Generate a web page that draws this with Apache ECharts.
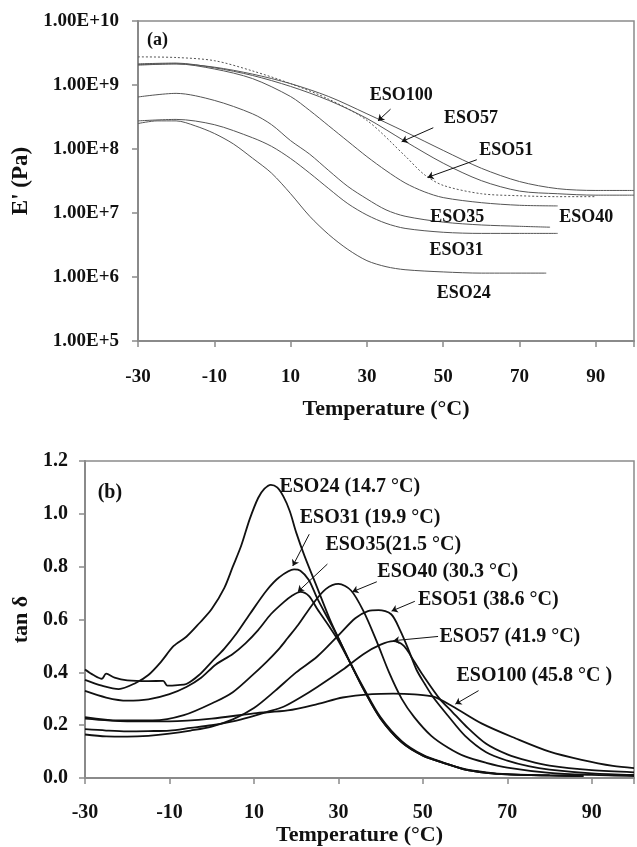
<!DOCTYPE html>
<html>
<head>
<meta charset="utf-8">
<script src="https://cdn.jsdelivr.net/npm/echarts@6/dist/echarts.min.js"></script>
<style>
  html, body { margin: 0; padding: 0; background: #fff; }
  #chart { width: 637px; height: 847px; }
</style>
</head>
<body>
<div id="chart"></div>
<script>
// tick labels
const tempTicks = [-30, -10, 10, 30, 50, 70, 90];
const modTicks = [1e5, 1e6, 1e7, 1e8, 1e9, 1e10];
const tanTicks = [0, 0.2, 0.4, 0.6, 0.8, 1.0, 1.2];

// (a) storage modulus E' (Pa) vs temperature, [T (°C), E']
const eso24E = [[-30, 2.5e8], [-25, 2.75e8], [-20, 2.75e8], [-15, 2.3e8], [-10, 1.75e8], [-5, 1.2e8], [0, 7.2e7], [5, 4.2e7], [10, 2.0e7], [15, 8.9e6], [20, 4.6e6], [25, 2.7e6], [30, 1.8e6], [35, 1.45e6], [40, 1.3e6], [50, 1.2e6], [60, 1.15e6], [77, 1.15e6]];
const eso31E = [[-30, 2.75e8], [-20, 2.9e8], [-10, 2.4e8], [0, 1.5e8], [5, 1.1e8], [10, 7.1e7], [15, 4.2e7], [20, 2.4e7], [25, 1.4e7], [30, 9.3e6], [35, 6.9e6], [40, 5.75e6], [50, 5.0e6], [60, 4.8e6], [70, 4.8e6], [80, 4.8e6]];
const eso35E = [[-30, 6.5e8], [-20, 7.4e8], [-10, 5.75e8], [0, 3.55e8], [5, 2.4e8], [10, 1.35e8], [15, 8.3e7], [20, 4.6e7], [25, 2.6e7], [30, 1.66e7], [35, 1.12e7], [40, 8.9e6], [50, 7.2e6], [60, 6.5e6], [70, 6.2e6], [78, 6.0e6]];
const eso40E = [[-30, 2.09e9], [-20, 2.14e9], [-10, 1.78e9], [0, 1.26e9], [10, 6.6e8], [15, 4.0e8], [20, 2.3e8], [25, 1.32e8], [30, 7.6e7], [35, 4.6e7], [40, 2.95e7], [45, 2.15e7], [50, 1.74e7], [60, 1.45e7], [70, 1.32e7], [80, 1.29e7]];
const eso51E = [[-30, 2.75e9], [-20, 2.69e9], [-10, 2.4e9], [0, 1.66e9], [10, 1.05e9], [20, 6.0e8], [30, 2.8e8], [40, 7.8e7], [45, 4.0e7], [50, 2.7e7], [60, 2.0e7], [70, 1.86e7], [80, 1.8e7], [90, 1.8e7]];
const eso57E = [[-30, 2.14e9], [-20, 2.2e9], [-10, 1.86e9], [0, 1.41e9], [10, 9.5e8], [20, 5.75e8], [30, 3.0e8], [40, 1.32e8], [50, 6.0e7], [60, 3.2e7], [70, 2.2e7], [80, 2.0e7], [90, 1.9e7], [100, 1.9e7]];
const eso100E = [[-30, 2.04e9], [-20, 2.14e9], [-10, 1.9e9], [0, 1.48e9], [10, 1.05e9], [20, 6.6e8], [30, 3.55e8], [40, 1.86e8], [50, 9.5e7], [60, 5.0e7], [70, 3.1e7], [80, 2.4e7], [90, 2.25e7], [100, 2.25e7]];

// (b) tan delta vs temperature, [T (°C), tan δ]
const eso24Tan = [[-30, 0.372], [-26, 0.35], [-22, 0.337], [-18, 0.36], [-15, 0.39], [-12, 0.44], [-9, 0.5], [-6, 0.535], [-3, 0.585], [0, 0.64], [3, 0.72], [5, 0.8], [7, 0.88], [9, 0.98], [11, 1.06], [12.5, 1.095], [14, 1.11], [15.5, 1.1], [17, 1.065], [18.5, 1.01], [20, 0.93], [22, 0.84], [25, 0.72], [28, 0.6], [30, 0.53], [33, 0.43], [36, 0.34], [40, 0.23], [45, 0.14], [50, 0.088], [55, 0.058], [60, 0.034], [65, 0.022], [70, 0.015], [80, 0.01], [88, 0.008]];
const eso31Tan = [[-30, 0.411], [-28, 0.39], [-26, 0.376], [-25, 0.395], [-23, 0.38], [-20, 0.37], [-15, 0.367], [-11.5, 0.368], [-10.5, 0.35], [-8, 0.352], [-6, 0.356], [-3, 0.39], [0, 0.44], [3, 0.49], [6, 0.55], [9, 0.62], [13, 0.71], [16, 0.76], [19.5, 0.79], [21, 0.785], [23, 0.75], [25, 0.68], [28, 0.59], [30, 0.53], [33, 0.43], [36, 0.335], [40, 0.225], [45, 0.135], [50, 0.085], [55, 0.057], [60, 0.032], [65, 0.02], [70, 0.014], [80, 0.01], [88, 0.008]];
const eso35Tan = [[-30, 0.33], [-25, 0.305], [-20, 0.293], [-15, 0.298], [-10, 0.318], [-6, 0.345], [-2.5, 0.38], [1, 0.43], [5, 0.47], [8, 0.51], [11, 0.56], [14, 0.62], [17, 0.665], [19, 0.69], [21, 0.705], [23, 0.69], [25, 0.64], [28, 0.57], [30, 0.52], [33, 0.43], [36, 0.335], [40, 0.225], [45, 0.135], [50, 0.085], [55, 0.057], [60, 0.032], [65, 0.02], [70, 0.014], [80, 0.01], [88, 0.008]];
const eso40Tan = [[-30, 0.231], [-22, 0.218], [-14, 0.218], [-6.6, 0.238], [1, 0.29], [5, 0.325], [9, 0.38], [13, 0.44], [16, 0.49], [18, 0.53], [20.5, 0.58], [24, 0.66], [27, 0.715], [30, 0.735], [33, 0.71], [36, 0.63], [39, 0.52], [42, 0.4], [45, 0.3], [48, 0.23], [52, 0.16], [56, 0.115], [60, 0.082], [65, 0.058], [70, 0.04], [80, 0.02], [90, 0.012], [100, 0.008]];
const eso51Tan = [[-30, 0.165], [-25, 0.158], [-20, 0.157], [-15, 0.16], [-10, 0.168], [-5, 0.18], [0, 0.195], [5, 0.222], [10, 0.265], [15, 0.33], [20, 0.4], [25, 0.46], [30, 0.54], [34, 0.605], [37, 0.632], [39.5, 0.636], [42.5, 0.62], [44.6, 0.56], [46.5, 0.49], [48.5, 0.41], [50.5, 0.355], [52.5, 0.305], [56, 0.235], [60, 0.16], [65, 0.098], [70, 0.066], [75, 0.045], [80, 0.032], [90, 0.018], [100, 0.012]];
const eso57Tan = [[-30, 0.185], [-25, 0.18], [-20, 0.177], [-15, 0.178], [-10, 0.18], [-5, 0.19], [0, 0.2], [5, 0.215], [9, 0.231], [13, 0.25], [17, 0.27], [21, 0.305], [25, 0.345], [31, 0.41], [36, 0.47], [40, 0.505], [43, 0.518], [45.5, 0.5], [48, 0.44], [50, 0.39], [54, 0.3], [57, 0.25], [60, 0.2], [65, 0.13], [70, 0.09], [75, 0.065], [80, 0.047], [90, 0.03], [100, 0.022]];
const eso100Tan = [[-30, 0.225], [-20, 0.215], [-10, 0.215], [0, 0.225], [10, 0.245], [18, 0.256], [25, 0.28], [31, 0.305], [38, 0.318], [43, 0.32], [48, 0.317], [52.5, 0.308], [57, 0.272], [64, 0.206], [72, 0.15], [80, 0.1], [87.6, 0.069], [95, 0.046], [100, 0.038]];

const FONT = "'Liberation Serif', 'Times New Roman', serif";
const AXIS = '#8a8a8a';
const INK = '#111';

const chart = echarts.init(document.getElementById('chart'));

// text tag placed in data space
function tags(list, size) {
  return {
    symbol: 'circle',
    symbolSize: 1,
    itemStyle: { color: 'rgba(0,0,0,0)' },
    silent: true,
    label: {
      show: true, position: 'inside', formatter: '{b}',
      fontFamily: FONT, fontWeight: 'bold', fontSize: size, color: INK
    },
    data: list.map(t => ({ name: t[0], coord: t[1] }))
  };
}

// small pointer from label to curve
function arrow(from, to) {
  return {
    silent: true,
    symbol: ['none', 'arrow'],
    symbolSize: 6,
    label: { show: false },
    lineStyle: { color: INK, width: 1, type: 'solid' },
    data: [[{ coord: from }, { coord: to }]]
  };
}

function curveA(name, data, opts) {
  const s = {
    name: name, type: 'line', xAxisIndex: 0, yAxisIndex: 0,
    data: data, showSymbol: false, smooth: 0.3,
    lineStyle: { color: '#555', width: 1, type: opts.dotted ? [2, 2] : 'solid' },
    emphasis: { disabled: true }
  };
  if (opts.tags) s.markPoint = tags(opts.tags, 18);
  if (opts.arrow) s.markLine = arrow(opts.arrow[0], opts.arrow[1]);
  return s;
}

function curveB(name, data, opts) {
  const s = {
    name: name, type: 'line', xAxisIndex: 1, yAxisIndex: 1,
    data: data, showSymbol: false, smooth: 0.3,
    lineStyle: { color: INK, width: 1.8 },
    emphasis: { disabled: true }
  };
  if (opts.tags) s.markPoint = tags(opts.tags, 20);
  if (opts.arrow) s.markLine = arrow(opts.arrow[0], opts.arrow[1]);
  return s;
}

function tempAxis(gridIndex, fontSize, labelMargin, nameGap) {
  return {
    type: 'value', gridIndex: gridIndex, min: -30, max: 100, interval: 20,
    name: 'Temperature (°C)', nameLocation: 'middle', nameGap: nameGap,
    nameTextStyle: { fontFamily: FONT, fontWeight: 'bold', fontSize: 22, color: INK },
    axisLine: { show: true, onZero: false, lineStyle: { color: AXIS, width: 2 } },
    axisTick: { show: true, length: 6, lineStyle: { color: AXIS, width: 1.5 } },
    axisLabel: {
      margin: labelMargin, fontFamily: FONT, fontWeight: 'bold', fontSize: fontSize, color: INK,
      formatter: v => (tempTicks.indexOf(v) >= 0 ? String(v) : '')
    },
    splitLine: { show: false }
  };
}

const option = {
  animation: false,
  backgroundColor: '#fff',
  grid: [
    { left: 138, top: 21, width: 498, height: 320, show: true, borderColor: AXIS, borderWidth: 1.5 },
    { left: 85, top: 461, width: 551, height: 321, show: true, borderColor: AXIS, borderWidth: 1.5 }
  ],
  xAxis: [
    tempAxis(0, 19, 27, 57),
    tempAxis(1, 20, 25, 45)
  ],
  yAxis: [
    {
      type: 'log', logBase: 10, gridIndex: 0, min: modTicks[0], max: modTicks[modTicks.length - 1],
      name: "E' (Pa)", nameLocation: 'middle', nameGap: 96,
      nameTextStyle: { fontFamily: FONT, fontWeight: 'bold', fontSize: 23, color: INK },
      axisLine: { show: true, onZero: false, lineStyle: { color: AXIS, width: 2 } },
      axisTick: { show: true, length: 6, lineStyle: { color: AXIS, width: 1.5 } },
      minorTick: { show: false },
      axisLabel: {
        margin: 19, fontFamily: FONT, fontWeight: 'bold', fontSize: 19, color: INK,
        formatter: v => Number(v).toExponential(2).toUpperCase()
      },
      splitLine: { show: false }
    },
    {
      type: 'value', gridIndex: 1, min: tanTicks[0], max: tanTicks[tanTicks.length - 1], interval: 0.2,
      name: 'tan δ', nameLocation: 'middle', nameGap: 52,
      nameTextStyle: { fontFamily: FONT, fontWeight: 'bold', fontSize: 22, color: INK },
      axisLine: { show: true, onZero: false, lineStyle: { color: AXIS, width: 2 } },
      axisTick: { show: true, length: 6, lineStyle: { color: AXIS, width: 1.5 } },
      axisLabel: {
        margin: 17, fontFamily: FONT, fontWeight: 'bold', fontSize: 20, color: INK,
        formatter: v => Number(v).toFixed(1)
      },
      splitLine: { show: false }
    }
  ],
  series: [
    curveA('ESO24', eso24E, { tags: [['ESO24', [55.4, 5.5e5]], ['(a)', [-24.9, 5.0e9]]] }),
    curveA('ESO31', eso31E, { tags: [['ESO31', [53.5, 2.6e6]]] }),
    curveA('ESO35', eso35E, { tags: [['ESO35', [53.7, 8.5e6]]] }),
    curveA('ESO40', eso40E, { tags: [['ESO40', [87.5, 8.5e6]]] }),
    curveA('ESO51', eso51E, { dotted: true, tags: [['ESO51', [66.5, 9.5e7]]], arrow: [[58.8, 6.8e7], [45.9, 3.6e7]] }),
    curveA('ESO57', eso57E, { tags: [['ESO57', [57.3, 3.0e8]]], arrow: [[47.4, 2.15e8], [39.1, 1.3e8]] }),
    curveA('ESO100', eso100E, { tags: [['ESO100', [39.0, 6.9e8]]], arrow: [[36.2, 4.2e8], [32.9, 2.75e8]] }),

    curveB('ESO24', eso24Tan, { tags: [['ESO24 (14.7 °C)', [32.7, 1.103]], ['(b)', [-24.1, 1.078]]] }),
    curveB('ESO31', eso31Tan, { tags: [['ESO31 (19.9 °C)', [37.5, 0.985]]], arrow: [[23.1, 0.923], [19.2, 0.803]] }),
    curveB('ESO35', eso35Tan, { tags: [['ESO35(21.5 °C)', [43.0, 0.881]]], arrow: [[27.4, 0.81], [20.4, 0.705]] }),
    curveB('ESO40', eso40Tan, { tags: [['ESO40 (30.3 °C)', [55.9, 0.779]]], arrow: [[39.1, 0.743], [33.3, 0.705]] }),
    curveB('ESO51', eso51Tan, { tags: [['ESO51 (38.6 °C)', [65.5, 0.673]]], arrow: [[48.1, 0.669], [42.6, 0.632]] }),
    curveB('ESO57', eso57Tan, { tags: [['ESO57 (41.9 °C)', [70.6, 0.533]]], arrow: [[53.6, 0.536], [43.0, 0.52]] }),
    curveB('ESO100', eso100Tan, { tags: [['ESO100 (45.8 °C )', [76.4, 0.387]]], arrow: [[63.2, 0.331], [57.7, 0.28]] })
  ]
};

chart.setOption(option);
</script>
</body>
</html>
